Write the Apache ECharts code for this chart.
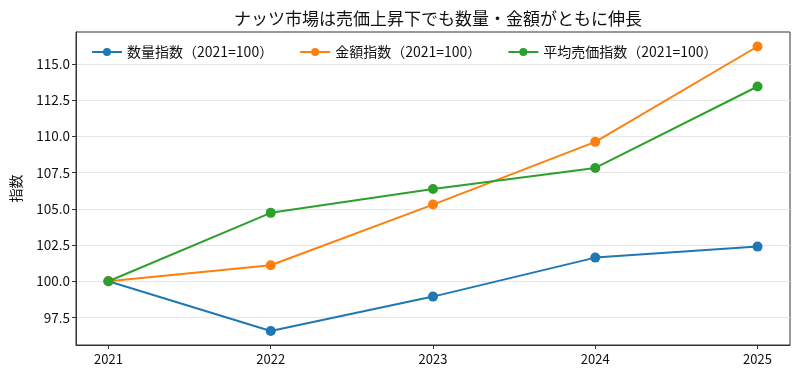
<!DOCTYPE html>
<html><head><meta charset="utf-8">
<script src="https://cdn.jsdelivr.net/npm/echarts@6/dist/echarts.min.js"></script>
<style>html,body{margin:0;padding:0;background:#fff}#c{width:800px;height:381px}</style>
</head><body><div id="c"></div>
<script>
const years = [2021, 2022, 2023, 2024, 2025];
const seriesNames = ['数量指数（2021=100）', '金額指数（2021=100）', '平均売価指数（2021=100）'];
const volumeIdx = [100.0, 96.57, 98.94, 101.63, 102.39];
const valueIdx = [100.0, 101.1, 105.29, 109.62, 116.2];
const priceIdx = [100.0, 104.72, 106.37, 107.82, 113.44];
const yTicks = [97.5, 100.0, 102.5, 105.0, 107.5, 110.0, 112.5, 115.0];
const colors = ['#1f77b4', '#ff7f0e', '#2ca02c'];
const font = '"Noto Sans CJK JP", "Noto Sans", sans-serif';

const chart = echarts.init(document.getElementById('c'), null, {renderer: 'canvas'});
const mk = (name, vals, color) => ({
  name, type: 'line', data: years.map((y, i) => [y, vals[i]]),
  symbol: 'circle', symbolSize: 10, color,
  lineStyle: {width: 2, color}, itemStyle: {color},
  emphasis: {disabled: true}, animation: false
});
chart.setOption({
  animation: false,
  textStyle: {fontFamily: font},
  title: {text: 'ナッツ市場は売価上昇下でも数量・金額がともに伸長', left: 433, textAlign: 'center', top: 5,
    textStyle: {fontFamily: font, fontSize: 17, fontWeight: 'normal', color: '#111'}},
  legend: {top: 40, left: 86, itemWidth: 30, itemHeight: 10, itemGap: 26,
    textStyle: {fontFamily: font, fontSize: 14, color: '#111'},
    data: seriesNames},
  grid: {left: 76, right: 10, top: 32, bottom: 36, show: true, borderColor: '#333', borderWidth: 1, backgroundColor: 'transparent'},
  xAxis: {type: 'value', min: 2020.8, max: 2025.2,
    axisLine: {lineStyle: {color: '#333'}},
    axisTick: {show: true, length: 4, inside: false, customValues: years, lineStyle: {color: '#333'}},
    axisLabel: {customValues: years, formatter: v => String(v), fontFamily: font, fontSize: 13, color: '#111', margin: 8},
    splitLine: {show: false}},
  yAxis: {type: 'value', min: 95.6, max: 117.2, name: '指数', nameLocation: 'middle', nameGap: 53,
    nameTextStyle: {fontFamily: font, fontSize: 14, color: '#111'},
    axisLine: {show: true, lineStyle: {color: '#333'}},
    axisTick: {show: true, length: 4, customValues: yTicks, lineStyle: {color: '#333'}},
    axisLabel: {customValues: yTicks, formatter: v => v.toFixed(1), fontFamily: font, fontSize: 13.5, color: '#111', margin: 6},
    splitLine: {show: true, lineStyle: {color: '#e6e6e6', width: 1}}},
  series: [mk(seriesNames[0], volumeIdx, colors[0]), mk(seriesNames[1], valueIdx, colors[1]), mk(seriesNames[2], priceIdx, colors[2])]
});
</script></body></html>
